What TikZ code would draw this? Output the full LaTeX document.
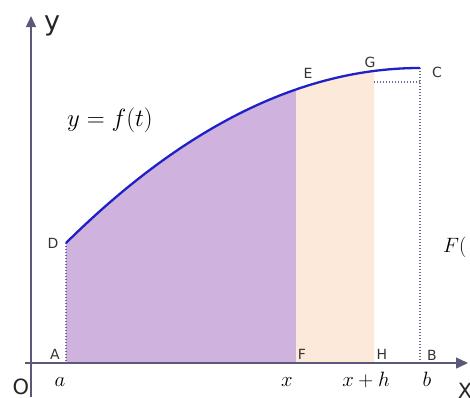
\documentclass[tikz,border=0pt]{standalone}
\usepackage{fontspec}
\setsansfont{DejaVu Sans}
\usetikzlibrary{arrows.meta}
\definecolor{purp}{HTML}{D0B2DE}
\definecolor{peach}{HTML}{FDE9DA}
\definecolor{curveblue}{HTML}{2020C8}
\definecolor{axisc}{HTML}{5A5A78}
\definecolor{dotc}{HTML}{6A6A98}
\begin{document}
\begin{tikzpicture}[x=1pt,y=-1pt,
  declare function={fy(\x)=68+175*(1-(\x-66)/354)^2;},
  ptlab/.style={font=\sffamily\fontsize{14}{14}\selectfont, text=black!80, inner sep=0},
  biglab/.style={font=\sffamily\fontsize{27}{27}\selectfont, text=black!85, inner sep=0},
  mlab/.style={font=\fontsize{21}{21}\selectfont, inner sep=0},
  dotl/.style={dotc, line width=1.6pt, dash pattern=on 1.3pt off 1.7pt},
  axisline/.style={axisc, line width=1.4pt}]
\useasboundingbox (0,0) rectangle (470,397);
% fills
\fill[purp] (66,363) -- plot[domain=66:296, samples=60] (\x,{fy(\x)}) -- (296,363) -- cycle;
\fill[peach] (296,363) -- plot[domain=296:374, samples=20] (\x,{fy(\x)}) -- (374,363) -- cycle;
% points
\coordinate (pD) at (66,243);
\coordinate (pA) at (66,363);
\coordinate (pC) at (420,68);
\coordinate (pB) at (420,363);
\coordinate (pG2) at (374,82);
\coordinate (pC2) at (420,82);
\coordinate (xs) at (25,363);
\coordinate (xe) at (468,363);
\coordinate (ys) at (31,397);
\coordinate (ye) at (31,16);
% dotted lines
\draw[dotl] (pD) -- (pA);
\draw[dotl] (pC) -- (pB);
\draw[dotl] (pG2) -- (pC2);
% axes
\draw[axisline,-{Triangle[length=12pt,width=11pt]}] (xs) -- (xe);
\draw[axisline,-{Triangle[length=11pt,width=10pt]}] (ys) -- (ye);
% curve
\draw[curveblue, line width=2.3pt] plot[domain=66:420, samples=120] (\x,{fy(\x)});
% point labels
\node[ptlab] (lA) at (55,354) {A};
\node[ptlab] (lD) at (53,243) {D};
\node[ptlab] (lE) at (308,73) {E};
\node[ptlab] (lG) at (370,62) {G};
\node[ptlab] (lC) at (437,72) {C};
\node[ptlab] (lF) at (302,354) {F};
\node[ptlab] (lH) at (382,354) {H};
\node[ptlab] (lB) at (432,355) {B};
% axis labels
\node[biglab, anchor=base] (ly) at (52,30) {y};
\node[biglab, font=\sffamily\fontsize{21}{21}\selectfont, anchor=base] (lO) at (21,394) {O};
\node[biglab, font=\sffamily\fontsize{21}{21}\selectfont, anchor=base] (lX) at (465,398) {X};
% math labels
\node[mlab, anchor=base] (la) at (60,386) {$a$};
\node[mlab, anchor=base] (lx) at (287,386) {$x$};
\node[mlab, anchor=base] (lxh) at (366,386) {$x+h$};
\node[mlab, anchor=base] (lb) at (427,386) {$b$};
\node[mlab, font=\fontsize{23}{23}\selectfont, anchor=base] (lfun) at (110,126) {$y=f(t)$};
\node[mlab, anchor=base west] (lF2) at (443,252) {$F($};
\end{tikzpicture}
\end{document}
